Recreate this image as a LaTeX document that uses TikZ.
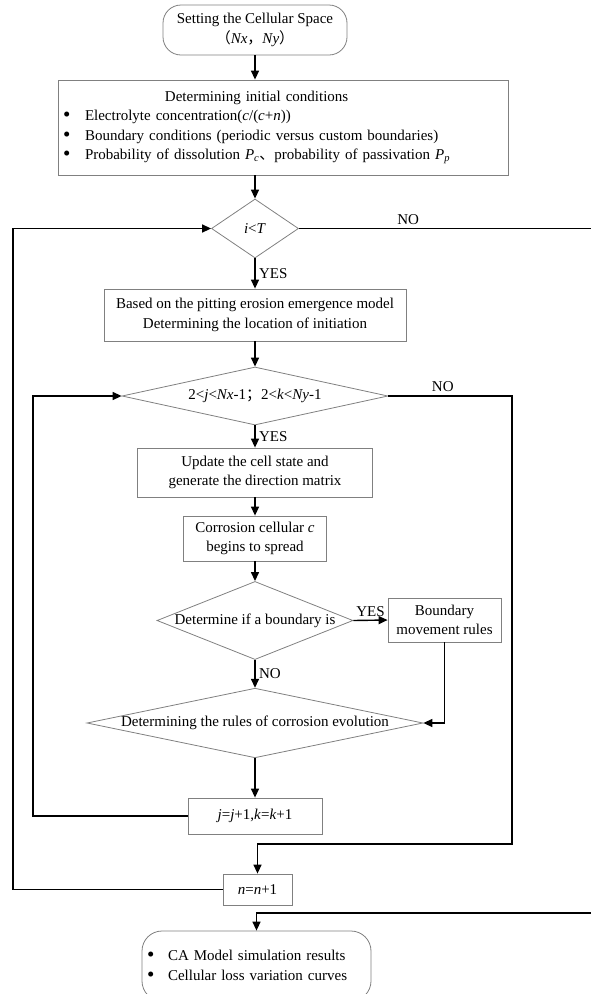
\documentclass[tikz,border=0pt]{standalone}
\usepackage{fontspec}
\setmainfont{Liberation Serif}
\newfontfamily\cjk{Noto Sans CJK SC}
\usetikzlibrary{shapes.geometric,arrows.meta}
\newcommand{\bul}[1]{\makebox[#1][l]{\hspace*{5pt}\raisebox{-1pt}{\fontsize{21}{21}\selectfont\textbullet}}}

\begin{document}
\begin{tikzpicture}[x=1pt,y=-1pt,line width=1.4pt,
        every node/.style={font=\fontsize{15}{19.5}\selectfont},
        box/.style={draw=black!50,line width=0.8pt,inner sep=0pt,align=center},
        rbox/.style={box,rounded corners=18pt},
        dec/.style={diamond,draw=black!50,line width=0.8pt,inner sep=0pt,aspect=#1},
        arr/.style={-{Triangle[length=9pt,width=8pt]}}]
        \useasboundingbox (0,0) rectangle (591,994);
        \node[rbox,minimum width=184,minimum height=50] (start) at (255,30) {Setting the Cellular Space\\{\cjk （}\textit{Nx}{\cjk ，}\textit{Ny}{\cjk ）}};
        \node[box,minimum width=450,minimum height=95,text width=450pt,align=left] (init) at (283,127.5) {\hspace*{107pt}Determining initial conditions\\
            \bul{27pt}Electrolyte concentration(\textit{c}/(\textit{c}+\textit{n}))\\
            \bul{27pt}Boundary conditions (periodic versus custom boundaries)\\
            \bul{27pt}Probability of dissolution \textit{P}\textsubscript{\textit{c}}{\cjk 、}probability of passivation \textit{P}\textsubscript{\textit{p}}};
        \node[dec=1.5,minimum width=87,minimum height=59] (iT) at (255,228.5) {\textit{i}<\textit{T}};
        \node[box,minimum width=302,minimum height=52] (pit) at (255,315) {Based on the pitting erosion emergence model\\Determining the location of initiation};
        \node[dec=4.5,minimum width=266,minimum height=58] (jk) at (255,396) {2<\textit{j}<\textit{Nx}-1{\cjk ；}2<\textit{k}<\textit{Ny}-1};
        \node[box,minimum width=235,minimum height=49] (upd) at (255,472.5) {Update the cell state and\\generate the direction matrix};
        \node[box,minimum width=143,minimum height=45] (spr) at (255,538.5) {Corrosion cellular \textit{c}\\begins to spread};
        \node[dec=2.5,minimum width=196,minimum height=77] (bnd) at (255,620.5) {Determine if a boundary is};
        \node[box,minimum width=113,minimum height=44] (bmr) at (444.5,620) {Boundary\\movement rules};
        \node[dec=4.8,minimum width=336,minimum height=68] (evo) at (255,723) {Determining the rules of corrosion evolution};
        \node[box,minimum width=134,minimum height=36] (jj) at (255,816) {\textit{j}=\textit{j}+1,\textit{k}=\textit{k}+1};
        \node[box,minimum width=69,minimum height=31] (nn) at (257.5,889.5) {\textit{n}=\textit{n}+1};
        \node[rbox,rounded corners=20pt,minimum width=229,minimum height=70,text width=229pt,align=left] (res) at (256.5,966) {\bul{26pt}CA Model simulation results\\
            \bul{26pt}Cellular loss variation curves};
        % loop lines
        \coordinate (outL) at (13,0);
        \coordinate (inL) at (33,0);
        \coordinate (inR) at (512,0);
        \coordinate (outR) at (594,0);
        \coordinate (j1) at (0,844);
        \coordinate (j2) at (0,913);
        \draw[arr] (start.south) -- (start.south |- init.north);
        \draw[arr] (init.south -| iT) -- (iT.north);
        \draw[arr] (iT.south) -- node[right]{YES} (pit.north);
        \draw[arr] (pit.south) -- (jk.north);
        \draw[arr] (jk.south) -- node[right]{YES} (upd.north);
        \draw[arr] (upd.south) -- (spr.north);
        \draw[arr] (spr.south) -- (bnd.north);
        \draw[arr] (bnd.east) -- node[above]{YES} (bmr.west);
        \draw[arr] (bmr.south) |- (evo.east);
        \draw[arr] (bnd.south) -- node[right]{NO} (evo.north);
        \draw[arr] (evo.south) -- (jj.north);
        \draw[arr] (jj.west) -- (jj.west -| inL) |- (jk.west);
        \draw[arr] (jk.east) -- node[pos=0.44,above]{NO} (jk.east -| inR) -- (inR |- j1) -- (j1 -| nn) -- (nn.north);
        \draw[arr] (nn.west) -- (nn.west -| outL) |- (iT.west);
        \draw[arr] (iT.east) -- node[pos=0.37,above]{NO} (iT.east -| outR) -- (outR |- j2) -- (j2 -| res) -- (res.north);
    \end{tikzpicture}
\end{document}
